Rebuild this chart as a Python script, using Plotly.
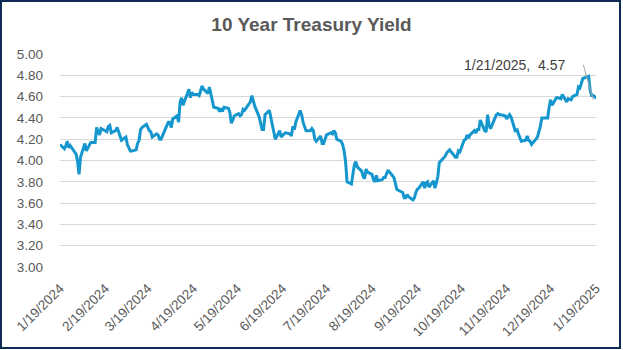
import pandas as pd
import plotly.graph_objects as go

# ---- data -------------------------------------------------------------
start_date = "2024-01-19"
end_date = "2025-01-21"
market_holidays = ["2024-02-19", "2024-03-29", "2024-05-27", "2024-06-19", "2024-07-04",
                   "2024-09-02", "2024-10-14", "2024-11-11", "2024-11-28", "2024-12-25",
                   "2025-01-01", "2025-01-09", "2025-01-20"]

yield_jan24 = [4.15, 4.11, 4.14, 4.18, 4.12, 4.14, 4.08, 4.06, 3.99]
yield_feb24 = [3.87, 4.03, 4.16, 4.09, 4.12, 4.15, 4.17, 4.17, 4.31, 4.27, 4.24, 4.30,
               4.27, 4.32, 4.33, 4.26, 4.28, 4.31, 4.27, 4.25]
yield_mar24 = [4.19, 4.22, 4.15, 4.12, 4.09, 4.09, 4.10, 4.16, 4.19, 4.29, 4.31, 4.34,
               4.30, 4.28, 4.27, 4.22, 4.25, 4.24, 4.20, 4.20]
yield_apr24 = [4.33, 4.36, 4.36, 4.31, 4.39, 4.42, 4.36, 4.55, 4.59, 4.52, 4.63, 4.67,
               4.59, 4.64, 4.62, 4.62, 4.61, 4.65, 4.70, 4.67, 4.63, 4.69]
yield_may24 = [4.63, 4.59, 4.50, 4.49, 4.46, 4.49, 4.46, 4.50, 4.49, 4.45, 4.35, 4.38,
               4.42, 4.44, 4.42, 4.43, 4.48, 4.47, 4.55, 4.61, 4.55, 4.51]
yield_jun24 = [4.41, 4.33, 4.29, 4.29, 4.43, 4.47, 4.40, 4.31, 4.24, 4.20, 4.28, 4.22,
               4.25, 4.26, 4.25, 4.23, 4.32, 4.29, 4.36]
yield_jul24 = [4.47, 4.43, 4.36, 4.28, 4.28, 4.30, 4.28, 4.20, 4.18, 4.23, 4.16, 4.16,
               4.20, 4.24, 4.26, 4.25, 4.28, 4.26, 4.20, 4.18, 4.15, 4.09]
yield_aug24 = [3.99, 3.80, 3.78, 3.90, 3.96, 3.99, 3.94, 3.90, 3.85, 3.83, 3.92, 3.89,
               3.87, 3.82, 3.80, 3.86, 3.81, 3.82, 3.84, 3.84, 3.87, 3.91]
yield_sep24 = [3.84, 3.77, 3.73, 3.72, 3.70, 3.65, 3.65, 3.68, 3.66, 3.63, 3.65, 3.70,
               3.73, 3.74, 3.80, 3.74, 3.79, 3.80, 3.75, 3.81]
yield_oct24 = [3.74, 3.79, 3.85, 3.98, 4.03, 4.04, 4.07, 4.09, 4.10, 4.03, 4.03, 4.09,
               4.08, 4.19, 4.20, 4.24, 4.21, 4.24, 4.28, 4.26, 4.29, 4.29]
yield_nov24 = [4.38, 4.28, 4.27, 4.43, 4.33, 4.30, 4.43, 4.44, 4.43, 4.43, 4.42, 4.39,
               4.41, 4.43, 4.41, 4.27, 4.30, 4.25, 4.18]
yield_dec24 = [4.19, 4.23, 4.19, 4.18, 4.15, 4.20, 4.22, 4.27, 4.32, 4.40, 4.40, 4.40,
               4.50, 4.57, 4.52, 4.59, 4.59, 4.58, 4.62, 4.55, 4.58]
yield_jan25 = [4.57, 4.60, 4.62, 4.69, 4.68, 4.77, 4.79, 4.79, 4.66, 4.61, 4.61, 4.57]

tick_dates = ["2024-01-19", "2024-02-19", "2024-03-19", "2024-04-19", "2024-05-19",
              "2024-06-19", "2024-07-19", "2024-08-19", "2024-09-19", "2024-10-19",
              "2024-11-19", "2024-12-19", "2025-01-19"]
tick_labels = ["1/19/2024", "2/19/2024", "3/19/2024", "4/19/2024", "5/19/2024",
               "6/19/2024", "7/19/2024", "8/19/2024", "9/19/2024", "10/19/2024",
               "11/19/2024", "12/19/2024", "1/19/2025"]
y_ticks = [3.00, 3.20, 3.40, 3.60, 3.80, 4.00, 4.20, 4.40, 4.60, 4.80, 5.00]

# ---- build ------------------------------------------------------------
dates = pd.bdate_range(start_date, end_date, freq="C", holidays=market_holidays)
yields = (yield_jan24 + yield_feb24 + yield_mar24 + yield_apr24 + yield_may24 +
          yield_jun24 + yield_jul24 + yield_aug24 + yield_sep24 + yield_oct24 +
          yield_nov24 + yield_dec24 + yield_jan25)
assert len(dates) == len(yields), (len(dates), len(yields))

W, H = 623, 350
ML, MR, MT, MB = 60, 27, 54, 83
PW, PH = W - ML - MR, H - MT - MB

GREY = "#595959"
fig = go.Figure()
fig.add_trace(go.Scatter(x=dates, y=yields, mode="lines",
                         line=dict(color="#1597CE", width=3), hoverinfo="x+y"))

last_date = dates[-1]
last_val = yields[-1]
label = f"{last_date.month}/{last_date.day}/{last_date.year},  {last_val:.2f}" + "\u00a0" * 4
fig.add_annotation(xref="paper", yref="y", x=0.995, y=last_val, text=label,
                   showarrow=True, arrowhead=0, arrowwidth=1, arrowcolor="#A6A6A6",
                   ax=-10, ay=-35, xanchor="right", yanchor="middle", borderpad=1,
                   standoff=0, font=dict(family="Liberation Sans", size=14, color="#404040"))

# chart border
fig.add_shape(type="rect", xref="paper", yref="paper",
              x0=(1 - ML) / PW, x1=(620 - ML) / PW,
              y0=(MT + PH - 348) / PH, y1=(MT + PH - 1) / PH,
              line=dict(color="#0E2A55", width=2), fillcolor="rgba(0,0,0,0)")

fig.update_layout(
    width=W, height=H,
    margin=dict(l=ML, r=MR, t=MT, b=MB),
    paper_bgcolor="white", plot_bgcolor="white",
    showlegend=False,
    title=dict(text="<b>10 Year Treasury Yield</b>", x=0.5, xanchor="center",
               xref="container", y=1 - 24.5 / H, yanchor="middle", yref="container",
               font=dict(family="Liberation Sans", size=19, color=GREY)),
    font=dict(family="Liberation Sans", size=13, color=GREY),
)
fig.update_xaxes(range=[start_date, "2025-01-19"], tickvals=tick_dates, ticktext=tick_labels,
                 tickangle=-45, showgrid=False, zeroline=False, showline=False,
                 ticks="", ticklabelstandoff=10, tickfont=dict(size=13.5, color=GREY))
fig.update_yaxes(range=[3, 5], tickvals=y_ticks, tickformat=".2f", showgrid=True,
                 gridcolor="#D9D9D9", gridwidth=1, zeroline=False, showline=False,
                 ticks="", ticklabelstandoff=16, tickfont=dict(size=13.5, color=GREY))

fig.write_html("out.html")
